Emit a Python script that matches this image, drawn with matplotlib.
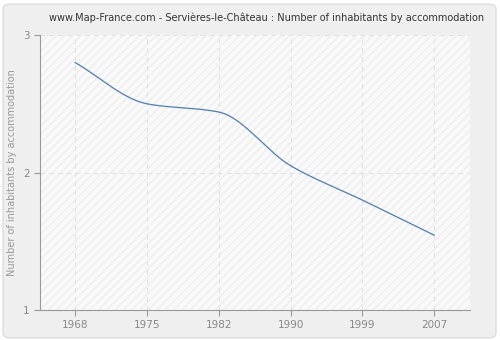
import matplotlib
matplotlib.use("Agg")
import matplotlib.pyplot as plt
from matplotlib.patches import FancyBboxPatch
import numpy as np

years = ["1968", "1975", "1982", "1990", "1999", "2007"]
values = [2.80, 2.50, 2.44, 2.05, 1.80, 1.545]
yticks = [1, 2, 3]


def monotone_curve(x, y, n=40):
    # Fritsch-Carlson monotone cubic, just for drawing a smooth line
    x = np.asarray(x, float)
    y = np.asarray(y, float)
    h = np.diff(x)
    d = np.diff(y) / h
    m = np.zeros_like(y)
    m[0], m[-1] = d[0], d[-1]
    for k in range(1, len(y) - 1):
        if d[k - 1] * d[k] <= 0:
            m[k] = 0
        else:
            w1 = 2 * h[k] + h[k - 1]
            w2 = h[k] + 2 * h[k - 1]
            m[k] = (w1 + w2) / (w1 / d[k - 1] + w2 / d[k])
    xs, ys = [], []
    for k in range(len(x) - 1):
        t = np.linspace(0, 1, n)
        h00 = 2 * t**3 - 3 * t**2 + 1
        h10 = t**3 - 2 * t**2 + t
        h01 = -2 * t**3 + 3 * t**2
        h11 = t**3 - t**2
        xs.append(x[k] + t * h[k])
        ys.append(h00 * y[k] + h10 * h[k] * m[k] + h01 * y[k + 1] + h11 * h[k] * m[k + 1])
    return np.concatenate(xs), np.concatenate(ys)


fig = plt.figure(figsize=(5, 3.4), dpi=100)
fig.patch.set_facecolor("white")
bg = FancyBboxPatch((0.006, 0.006), 0.986, 0.982, boxstyle="round,pad=0,rounding_size=0.015",
                    transform=fig.transFigure, facecolor="#efefef", edgecolor="#dddddd",
                    linewidth=1, zorder=-10)
fig.patches.append(bg)

ax = fig.add_axes([0.08, 0.088, 0.86, 0.809])
ax.set_facecolor("#f9f9f9")
ax.add_patch(plt.Rectangle((0, 0), 1, 1, transform=ax.transAxes, facecolor="none",
                           edgecolor="#eeeeee", hatch="////", linewidth=0, zorder=0))

pos = np.arange(len(years))
cx, cy = monotone_curve(pos, values)
ax.plot(cx, cy, color="#4f7db3", linewidth=0.9, zorder=3)

ax.set_xlim(-0.49, 5.5)
ax.set_ylim(1, 3)
ax.set_xticks(pos)
ax.set_xticklabels(years)
ax.set_yticks(yticks)
ax.grid(True, color="#e2e2e2", linestyle=(0, (4, 4)), linewidth=0.8)
ax.set_axisbelow(True)

for s in ["top", "right"]:
    ax.spines[s].set_visible(False)
for s in ["left", "bottom"]:
    ax.spines[s].set_color("#999999")
ax.tick_params(colors="#999999", labelcolor="#888888", labelsize=7.5, length=4, width=0.8)
ax.set_ylabel("Number of inhabitants by accommodation", color="#999999", fontsize=7)

fig.text(0.534, 0.948, "www.Map-France.com - Servières-le-Château : Number of inhabitants by accommodation",
         ha="center", va="center", fontsize=7.0, color="#333333")

fig.savefig("out.png", dpi=100, facecolor=fig.get_facecolor())
